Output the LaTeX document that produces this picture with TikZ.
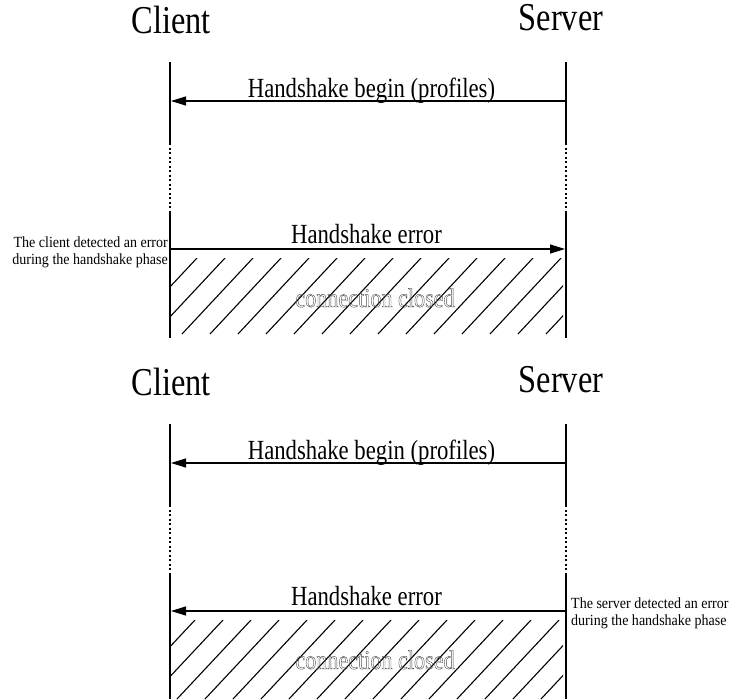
\documentclass[tikz,border=0pt]{standalone}
\usepackage{fontspec}
\setmainfont{Liberation Serif}[FakeStretch=0.82]
\newfontfamily\notefont{Liberation Serif}[FakeStretch=0.905]
\usetikzlibrary{arrows.meta}

% outlined (stroked, unfilled) glyphs
\newcommand\outlinedtext[1]{\special{pdf:literal 1 Tr 0.4 w}#1\special{pdf:literal 0 Tr}}

\tikzset{
  title/.style={font=\fontsize{39.5}{39.5}\selectfont, inner sep=0pt, anchor=base},
  msg/.style={font=\fontsize{27.7}{27.7}\selectfont, inner sep=0pt, anchor=base},
  note/.style={font=\notefont\fontsize{15.5}{16.8}\selectfont, inner sep=0pt},
  closed/.style={font=\fontsize{27}{27}\selectfont, inner sep=0pt, anchor=base, text=black!70},
  life/.style={line width=2pt},
  gap/.style={line width=1.6pt, dash pattern=on 2pt off 2.5pt},
  msgarrow/.style={line width=1.2pt, -{Triangle[length=15pt,width=9pt]}},
  hatch/.style={line width=1.1pt},
}

\begin{document}
\begin{tikzpicture}[x=1pt,y=-1pt]
\useasboundingbox (0,0) rectangle (731,699);

% ---------- first exchange: the client detects the error ----------
\node[title] (c1) at (171,33) {Client};
\node[title] (s1) at (561,30.5) {Server};

\coordinate (c1a) at (170,62);  \coordinate (c1b) at (170,143);
\coordinate (c1c) at (170,212); \coordinate (c1d) at (170,338);
\coordinate (s1a) at (566,62);  \coordinate (s1b) at (566,143);
\coordinate (s1c) at (566,212); \coordinate (s1d) at (566,338);

\draw[life] (c1a) -- (c1b); \draw[gap] (c1b) -- (c1c); \draw[life] (c1c) -- (c1d);
\draw[life] (s1a) -- (s1b); \draw[gap] (s1b) -- (s1c); \draw[life] (s1c) -- (s1d);

\coordinate (h1s) at (566,101); \coordinate (h1c) at (171,101);
\draw[msgarrow] (h1s) -- (h1c);
\node[msg] (h1l) at (371.5,97) {Handshake begin (profiles)};

\coordinate (e1c) at (170,249); \coordinate (e1s) at (565,249);
\draw[msgarrow] (e1c) -- (e1s);
\node[msg] (e1l) at (366.5,243) {Handshake error};

\node[note, anchor=east, align=right] (n1) at (168,252)
  {The client detected an error\\during the handshake phase};

\begin{scope}
  \clip (171,258) rectangle (563,334);
  \foreach \k in {0,...,16}
    \draw[hatch] (197+28*\k,258) -- ++(-71,76);
\end{scope}
\node[closed] (x1) at (375,307) {\outlinedtext{connection closed}};

% ---------- second exchange: the server detects the error ----------
\node[title] (c2) at (171,395) {Client};
\node[title] (s2) at (561,392.5) {Server};

\coordinate (c2a) at (170,424); \coordinate (c2b) at (170,505);
\coordinate (c2c) at (170,574); \coordinate (c2d) at (170,699);
\coordinate (s2a) at (566,424); \coordinate (s2b) at (566,505);
\coordinate (s2c) at (566,574); \coordinate (s2d) at (566,699);

\draw[life] (c2a) -- (c2b); \draw[gap] (c2b) -- (c2c); \draw[life] (c2c) -- (c2d);
\draw[life] (s2a) -- (s2b); \draw[gap] (s2b) -- (s2c); \draw[life] (s2c) -- (s2d);

\coordinate (h2s) at (566,463); \coordinate (h2c) at (171,463);
\draw[msgarrow] (h2s) -- (h2c);
\node[msg] (h2l) at (371.5,459) {Handshake begin (profiles)};

\coordinate (e2s) at (566,611); \coordinate (e2c) at (171,611);
\draw[msgarrow] (e2s) -- (e2c);
\node[msg] (e2l) at (366.5,605) {Handshake error};

\node[note, anchor=west, align=left] (n2) at (571,613.5)
  {The server detected an error\\during the handshake phase};

\begin{scope}
  \clip (171,620) rectangle (563,700);
  \foreach \k in {0,...,16}
    \draw[hatch] (195+28*\k,620) -- ++(-74,79);
\end{scope}
\node[closed] (x2) at (375,669) {\outlinedtext{connection closed}};
\end{tikzpicture}
\end{document}
